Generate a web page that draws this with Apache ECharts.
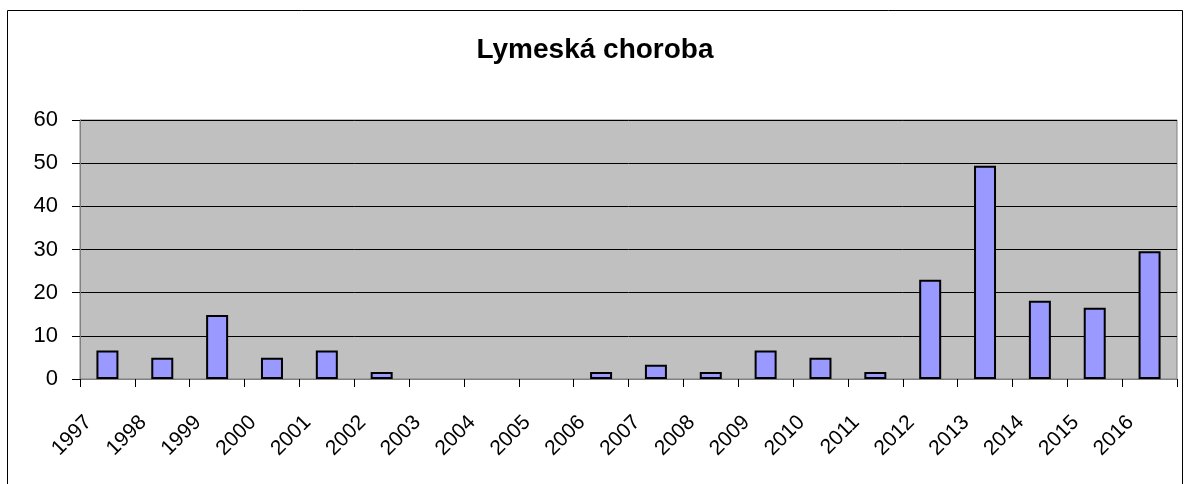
<!DOCTYPE html>
<html><head><meta charset="utf-8">
<script src="https://cdn.jsdelivr.net/npm/echarts@6/dist/echarts.min.js"></script>
<style>html,body{margin:0;padding:0;background:#fff}#c{width:1190px;height:484px}</style>
</head><body><div id="c"></div>
<script>
const categories = ['1997','1998','1999','2000','2001','2002','2003','2004','2005','2006','2007','2008','2009','2010','2011','2012','2013','2014','2015','2016'];
const values = [6.6,4.9,14.8,4.9,6.6,1.6,0,0,0,1.6,3.3,1.6,6.6,4.9,1.6,23,49.4,18.1,16.5,29.6];
const titleText = 'Lymeská choroba';

const barData = values.map(v => v === 0 ? {value:v, itemStyle:{borderWidth:0}} : v);

const chart = echarts.init(document.getElementById('c'), null, {renderer:'canvas'});
chart.setOption({
  animation:false,
  backgroundColor:'#fff',
  title:{text:titleText,left:'center',top:31,textStyle:{fontFamily:'Liberation Sans, Arial',fontSize:28,fontWeight:'bold',color:'#000'}},
  graphic:[{type:'rect',shape:{x:7.5,y:10.5,width:1175,height:480},style:{fill:'none',stroke:'#000',lineWidth:1},z:-1}],
  grid:{left:80,top:120,width:1097,height:259,show:true,backgroundColor:'#C0C0C0',borderColor:'#808080',borderWidth:1},
  xAxis:{type:'category',data:categories,boundaryGap:true,
    axisLine:{show:true,lineStyle:{color:'#808080',width:1}},
    axisTick:{show:true,length:8,alignWithLabel:false,lineStyle:{color:'#000'}},
    axisLabel:{rotate:45,interval:0,margin:21,padding:[0,27,0,0],fontFamily:'Liberation Sans, Arial',fontSize:21,color:'#000'}},
  yAxis:{type:'value',min:0,max:60,interval:10,
    axisLine:{show:true,lineStyle:{color:'#808080'}},
    axisTick:{show:true,length:8,lineStyle:{color:'#000'}},
    splitLine:{show:true,lineStyle:{color:'#000',width:1}},
    axisLabel:{margin:22,fontFamily:'Liberation Sans, Arial',fontSize:22,color:'#000'}},
  series:[{type:'bar',data:barData,barWidth:22,itemStyle:{color:'#9999FF',borderColor:'#000',borderWidth:2}}]
});
</script></body></html>
